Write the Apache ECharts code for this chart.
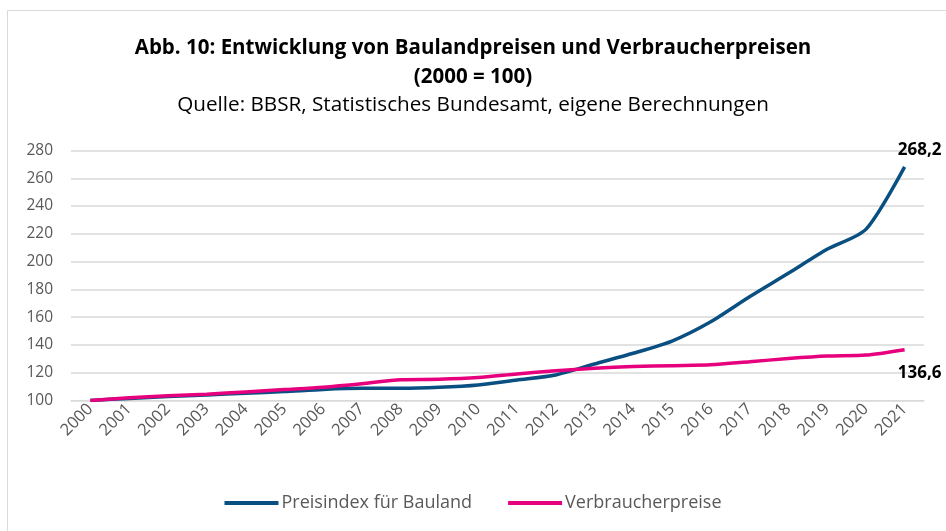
<!DOCTYPE html>
<html><head><meta charset="utf-8">
<script src="https://cdn.jsdelivr.net/npm/echarts@6/dist/echarts.min.js"></script>
<style>html,body{margin:0;padding:0;background:#fff}#c{width:946px;height:531px}</style>
</head><body><div id="c"></div>
<script>
const years = ['2000','2001','2002','2003','2004','2005','2006','2007','2008','2009','2010','2011','2012','2013','2014','2015','2016','2017','2018','2019','2020','2021'];
const bauland = [100,101.5,102.8,104,105.2,106.4,108,108.8,108.8,109.5,111.2,114.8,118.4,126.3,134,142.8,156.7,174.7,191.6,208.9,223.2,268.2];
const verbraucher = [100,102.0,103.4,104.5,106.2,107.9,109.6,112.1,115.0,115.3,116.5,119.1,121.4,123.2,124.4,125.1,125.7,127.9,130.2,132.0,132.7,136.6];
const yTicks = {min:100,max:280,interval:20};
const FONT = 'Open Sans';
function withLastLabel(arr, offset){
  return arr.map((v,i)=> i===arr.length-1 ? {value:v,label:{show:true,offset:offset}} : v);
}
const labelBase = {show:false,fontFamily:FONT,fontSize:17,fontWeight:'bold',color:'#000',
  formatter:p=>String(p.value).replace('.',',')};
const chart = echarts.init(document.getElementById('c'));
chart.setOption({
  animation:false,
  backgroundColor:'#fff',
  textStyle:{fontFamily:FONT},
  title:[
    {text:'Abb. 10: Entwicklung von Baulandpreisen und Verbraucherpreisen\n(2000 = 100)',left:'center',top:29,
     textStyle:{fontFamily:FONT,fontSize:20.5,fontWeight:'bold',color:'#000',lineHeight:29}},
    {text:'Quelle: BBSR, Statistisches Bundesamt, eigene Berechnungen',left:'center',top:90,
     textStyle:{fontFamily:FONT,fontSize:20.7,fontWeight:'normal',color:'#000'}}
  ],
  graphic:[{type:'rect',shape:{x:7.5,y:10.5,width:960,height:560},style:{fill:'none',stroke:'#d9d9d9',lineWidth:1},silent:true}],
  grid:{left:71,right:22,top:150.5,bottom:130.5,containLabel:false},
  legend:{bottom:14,left:'center',itemWidth:54,itemHeight:4,itemGap:36,icon:'rect',
    textStyle:{fontFamily:FONT,fontSize:18,color:'#595959',padding:[0,0,0,-2]},
    data:['Preisindex für Bauland','Verbraucherpreise']},
  xAxis:{type:'category',data:years,boundaryGap:true,
    axisLine:{show:true,lineStyle:{color:'#d9d9d9',width:1}},axisTick:{show:false},
    axisLabel:{rotate:45,fontFamily:FONT,fontSize:16.5,color:'#595959',margin:6,interval:0}},
  yAxis:{type:'value',min:yTicks.min,max:yTicks.max,interval:yTicks.interval,
    axisLine:{show:false},axisTick:{show:false},
    splitLine:{lineStyle:{color:'#d9d9d9',width:1.5}},
    axisLabel:{fontFamily:FONT,fontSize:15.5,color:'#595959',margin:18}},
  series:[
    {name:'Preisindex für Bauland',type:'line',data:withLastLabel(bauland,[15,-3]),smooth:0.25,
      symbol:'circle',symbolSize:0,showSymbol:true,showAllSymbol:true,
      lineStyle:{color:'#0A4F82',width:3.5},itemStyle:{color:'#0A4F82'},
      label:Object.assign({position:'top'},labelBase)},
    {name:'Verbraucherpreise',type:'line',data:withLastLabel(verbraucher,[15,10]),smooth:0.25,
      symbol:'circle',symbolSize:0,showSymbol:true,showAllSymbol:true,
      lineStyle:{color:'#E6007E',width:3.5},itemStyle:{color:'#E6007E'},
      label:Object.assign({position:'bottom'},labelBase)}
  ]
});
</script></body></html>
